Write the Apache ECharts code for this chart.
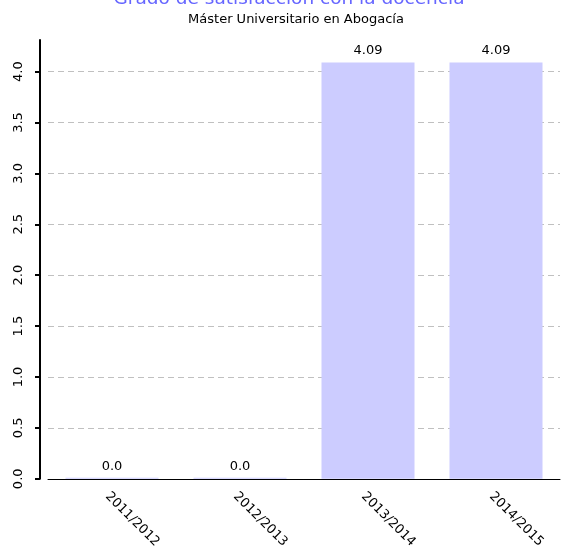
<!DOCTYPE html>
<html><head><meta charset="utf-8">
<script src="https://cdn.jsdelivr.net/npm/echarts@6/dist/echarts.min.js"></script>
<style>html,body{margin:0;padding:0;background:#fff}#c{width:568px;height:551px}</style>
</head><body><div id="c"></div>
<script>
const titleText = "Grado de satisfacción con la docencia";
const subtitleText = "Máster Universitario en Abogacía";
const categories = ["2011/2012", "2012/2013", "2013/2014", "2014/2015"];
const values = [0, 0, 4.09, 4.09];
const yTicks = [0, 0.5, 1.0, 1.5, 2.0, 2.5, 3.0, 3.5, 4.0];

const font = "DejaVu Sans";
const chart = echarts.init(document.getElementById('c'), null, {renderer: 'canvas'});
chart.setOption({
  animation: false,
  title: [{
    text: titleText, left: 284, top: -15, textAlign: 'center',
    textStyle: {color: '#6666ff', fontSize: 18.5, fontWeight: 'normal', fontFamily: font}
  }, {
    text: subtitleText, left: 291, top: 8, textAlign: 'center',
    textStyle: {color: '#000', fontSize: 13, fontWeight: 'normal', fontFamily: font}
  }],
  grid: {left: 48, right: 8, top: 40, bottom: 70, containLabel: false},
  xAxis: {
    type: 'category', data: categories,
    axisLine: {lineStyle: {color: '#000', width: 1}},
    axisTick: {show: false},
    axisLabel: {rotate: -45, color: '#000', fontSize: 13, fontFamily: font, margin: 11,
      align: 'left', verticalAlign: 'top'}
  },
  yAxis: {
    type: 'value', min: 0, max: 4.31, interval: 0.5, offset: 8,
    axisLine: {show: true, lineStyle: {color: '#000', width: 2}},
    axisTick: {show: true, length: 5, lineStyle: {color: '#000', width: 2}, customValues: yTicks},
    axisLabel: {rotate: 90, color: '#000', fontSize: 13, fontFamily: font, margin: 15,
      customValues: yTicks, formatter: v => v.toFixed(1)},
    splitLine: {show: true, lineStyle: {color: '#c0c0c0', type: [6, 4], width: 1}}
  },
  series: [{
    type: 'bar', data: values, barWidth: 93, barMinHeight: 1,
    itemStyle: {color: '#ccccff'},
    label: {show: true, position: 'top', color: '#000', fontSize: 13, fontFamily: font, distance: 5,
      formatter: p => Number.isInteger(p.value) ? p.value.toFixed(1) : String(p.value)}
  }]
});
</script></body></html>
